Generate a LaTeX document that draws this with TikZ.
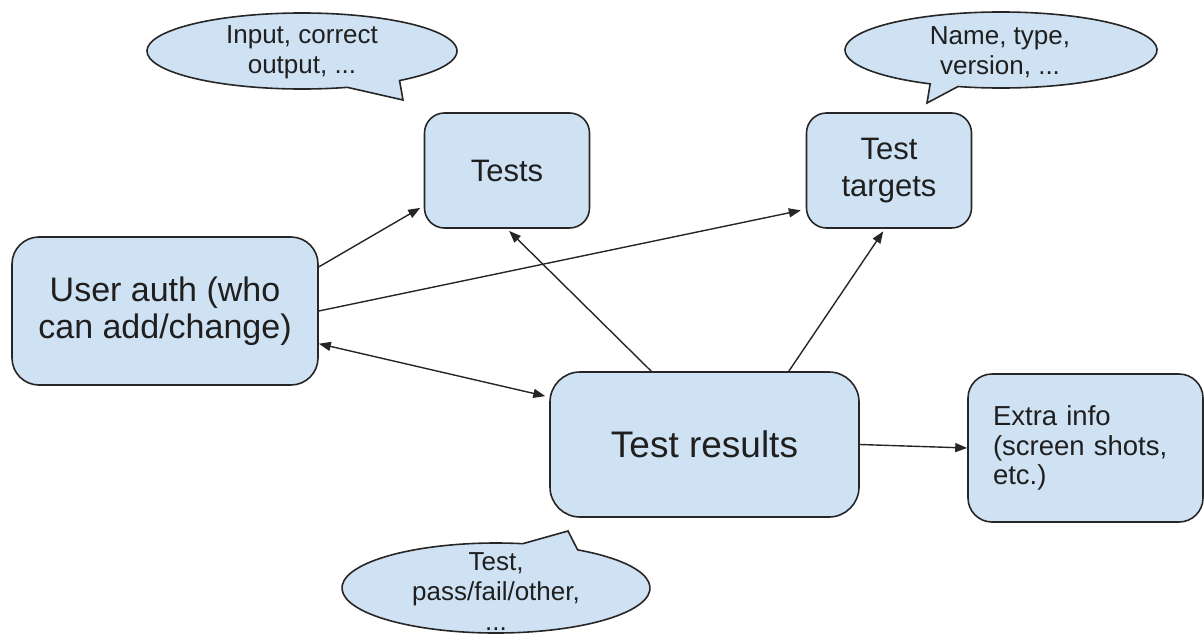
\documentclass[tikz,border=0pt]{standalone}
\usepackage{fontspec}
\setmainfont{Liberation Sans}
\usetikzlibrary{arrows.meta}

\definecolor{boxblue}{HTML}{CFE2F3}

\begin{document}
\begin{tikzpicture}[
  x=1pt, y=-1pt,
  every node/.style={align=center, text=black!88},
  box/.style={rectangle, draw=black!85, fill=boxblue, line width=1.6pt, rounded corners=20pt, inner sep=0pt},
  bubble/.style={draw=black!85, fill=boxblue, line width=1.6pt},
  note/.style={font=\fontsize{26}{30}\selectfont},
  link/.style={->, line width=1.4pt, draw=black!85},
  >={Triangle[length=12pt, width=9pt]}
  ]

\useasboundingbox (0,0) rectangle (1204,637);

% Speech bubbles (ellipse arc plus tail)
\path[bubble] (302,51) ++(73:155 and 38) arc[start angle=73, end angle=411, x radius=155, y radius=38] -- (403,100) -- cycle;
\path[bubble] (1001,50) ++(106:156 and 38) arc[start angle=106, end angle=-243, x radius=156, y radius=38] -- (927,103) -- cycle;
\path[bubble] (496,588) ++(302:154 and 45) arc[start angle=302, end angle=640, x radius=154, y radius=45] -- (568,531) -- cycle;

\node[note] (inputnote) at (302,52) {Input, correct\\output, ...};
\node[note] (targetnote) at (1000,52) {Name, type,\\version, ...};
\node[note] (resultnote) at (496,592) {Test,\\pass/fail/other,\\...};

% Nodes
\node[box, minimum width=306pt, minimum height=148pt, rounded corners=27pt, font=\fontsize{34}{37}\selectfont] (userauth) at (165,311) {User auth (who\\can add/change)};
\node[box, minimum width=165pt, minimum height=115pt, font=\fontsize{31}{37}\selectfont] (tests) at (507,170.5) {Tests};
\node[box, minimum width=165pt, minimum height=115pt, font=\fontsize{31}{37}\selectfont] (targets) at (889,170.5) {Test\\targets};
\node[box, minimum width=309pt, minimum height=145pt, rounded corners=30pt, font=\fontsize{37}{44}\selectfont] (results) at (704.5,444.5) {Test results};
\node[box, minimum width=235pt, minimum height=148pt, rounded corners=24pt, text width=185pt, align=left, font=\fontsize{27.5}{29.5}\selectfont] (extra) at (1085.5,448) {Extra info\\(screen shots,\\etc.)};

% Arrows
\draw[link, shorten >=4pt] (userauth.16) -- (tests.203);
\draw[link, shorten >=5pt] (userauth.east) -- (targets.205);
\draw[link, shorten >=3pt] (results.126) -- (tests.south);
\draw[link, shorten >=3pt] (results.41) -- (targets.-94);
\draw[link, <->, shorten >=4pt] (userauth.-12) -- (results.163);
\draw[link] (results.east) -- (extra.west);

\end{tikzpicture}
\end{document}
